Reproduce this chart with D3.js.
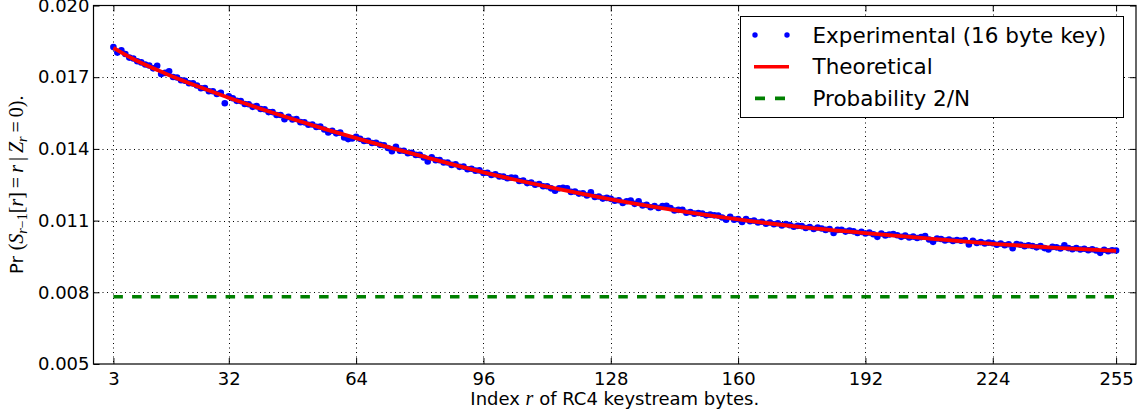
<!DOCTYPE html>
<html>
<head>
<meta charset="utf-8">
<script src="https://cdn.jsdelivr.net/npm/d3@7"></script>
<style>
  html, body { margin: 0; padding: 0; background: #fff; }
  svg { display: block; }
</style>
</head>
<body>
<svg id="chart" width="1140" height="417"></svg>
<script>
// ---------------- data ----------------
const xTicks = [3, 32, 64, 96, 128, 160, 192, 224, 255];
const yTicks = [0.005, 0.008, 0.011, 0.014, 0.017, 0.020];
const yTickLabels = ["0.005", "0.008", "0.011", "0.014", "0.017", "0.020"];

// Experimental values, index r = 3 .. 255
const expStart = 3;
const experimental = [
  0.01826,0.01803,0.01813,0.01797,0.01782,0.01778,0.01767,0.01762,0.01753,0.01749,
  0.01737,0.01748,0.01713,0.01718,0.01725,0.01701,0.01699,0.01687,0.01685,0.01675,
  0.01674,0.01665,0.01654,0.01655,0.01641,0.01641,0.01630,0.01635,0.01591,0.01620,
  0.01612,0.01601,0.01600,0.01588,0.01587,0.01576,0.01579,0.01567,0.01566,0.01554,
  0.01554,0.01542,0.01542,0.01524,0.01534,0.01523,0.01525,0.01512,0.01511,0.01501,
  0.01502,0.01492,0.01493,0.01481,0.01469,0.01476,0.01465,0.01468,0.01448,0.01441,
  0.01444,0.01451,0.01442,0.01433,0.01434,0.01425,0.01426,0.01417,0.01415,0.01404,
  0.01390,0.01409,0.01392,0.01392,0.01382,0.01384,0.01375,0.01375,0.01364,0.01347,
  0.01365,0.01353,0.01353,0.01343,0.01343,0.01333,0.01336,0.01325,0.01326,0.01315,
  0.01317,0.01309,0.01310,0.01299,0.01300,0.01291,0.01294,0.01285,0.01284,0.01277,
  0.01280,0.01279,0.01266,0.01268,0.01257,0.01259,0.01250,0.01253,0.01244,0.01244,
  0.01235,0.01225,0.01235,0.01237,0.01235,0.01220,0.01222,0.01213,0.01214,0.01205,
  0.01218,0.01199,0.01201,0.01192,0.01195,0.01191,0.01183,0.01185,0.01174,0.01181,
  0.01184,0.01170,0.01181,0.01163,0.01166,0.01156,0.01161,0.01153,0.01161,0.01162,
  0.01153,0.01142,0.01145,0.01145,0.01133,0.01136,0.01129,0.01132,0.01129,0.01122,
  0.01125,0.01122,0.01121,0.01113,0.01104,0.01116,0.01104,0.01107,0.01094,0.01106,
  0.01097,0.01100,0.01092,0.01095,0.01087,0.01092,0.01085,0.01089,0.01080,0.01086,
  0.01081,0.01074,0.01078,0.01077,0.01069,0.01073,0.01065,0.01071,0.01067,0.01061,
  0.01065,0.01048,0.01061,0.01062,0.01054,0.01058,0.01055,0.01048,0.01053,0.01046,
  0.01050,0.01043,0.01032,0.01046,0.01038,0.01042,0.01044,0.01039,0.01032,0.01037,
  0.01029,0.01033,0.01027,0.01031,0.01035,0.01021,0.01011,0.01025,0.01023,0.01017,
  0.01021,0.01015,0.01019,0.01016,0.01019,0.01000,0.01016,0.01006,0.01010,0.01004,
  0.01008,0.01005,0.00999,0.01004,0.00997,0.01001,0.00984,0.01002,0.00999,0.00993,
  0.00997,0.00994,0.00988,0.00993,0.00985,0.00979,0.00990,0.00988,0.00983,0.00997,
  0.00985,0.00980,0.00985,0.00979,0.00982,0.00976,0.00980,0.00975,0.00965,0.00978,
  0.00972,0.00976,0.00975
];

// Theoretical curve
const theoR = [3, 8, 16, 24, 32, 40, 48, 56, 64, 80, 96, 112, 128, 144, 160, 176, 192, 208, 224, 240, 255];
const theoV = [0.01823, 0.01776, 0.01716, 0.01663, 0.01614, 0.01568, 0.01525, 0.01484, 0.01445,
               0.01372, 0.01302, 0.01242, 0.01189, 0.01144, 0.01105, 0.01073, 0.01048, 0.01025,
               0.01003, 0.00986, 0.00973];

// Probability 2/N
const baselineR = [3, 255];
const baselineV = [0.0078125, 0.0078125];

const legendLabels = ["Experimental (16 byte key)", "Theoretical", "Probability 2/N"];

// ---------------- layout ----------------
const svg = d3.select("#chart");
const L = 93.5, R = 1136, T = 5.5, B = 364;
const x = d3.scaleLinear().domain([-2, 260]).range([L, R]);
const y = d3.scaleLinear().domain([0.005, 0.020]).range([B, T]);

const tickFont = "'DejaVu Sans', sans-serif";
const mathFont = "'Liberation Serif', 'DejaVu Serif', serif";

// grid
const grid = svg.append("g").attr("stroke", "#000").attr("stroke-width", 1)
  .attr("stroke-dasharray", "1,3.5").attr("fill", "none");
grid.selectAll("line.gx").data(xTicks).join("line")
  .attr("x1", d => Math.round(x(d)) + 0.5).attr("x2", d => Math.round(x(d)) + 0.5)
  .attr("y1", T).attr("y2", B);
grid.selectAll("line.gy").data(yTicks.slice(1, -1)).join("line")
  .attr("y1", d => Math.round(y(d)) + 0.5).attr("y2", d => Math.round(y(d)) + 0.5)
  .attr("x1", L).attr("x2", R);

// experimental dots
svg.append("g").attr("fill", "#0000ff")
  .selectAll("circle").data(experimental).join("circle")
  .attr("cx", (d, i) => x(expStart + i))
  .attr("cy", d => y(d))
  .attr("r", 3.3);

// theoretical line
const theo = theoR.map((r, i) => [r, theoV[i]]);
svg.append("path").datum(theo)
  .attr("fill", "none").attr("stroke", "#ff0000").attr("stroke-width", 3.8)
  .attr("stroke-linejoin", "round")
  .attr("d", d3.line().x(d => x(d[0])).y(d => y(d[1])).curve(d3.curveMonotoneX));

// 2/N line
const base = baselineR.map((r, i) => [r, baselineV[i]]);
svg.append("path").datum(base)
  .attr("fill", "none").attr("stroke", "#008000").attr("stroke-width", 3.6)
  .attr("stroke-dasharray", "9.5,9.2")
  .attr("d", d3.line().x(d => x(d[0])).y(d => y(d[1])));

// axes (inward ticks)
const tick = 6;
const ax = svg.append("g").attr("transform", `translate(0,${B})`)
  .call(d3.axisBottom(x).tickValues(xTicks).tickSize(-tick).tickSizeOuter(0).tickPadding(8).tickFormat(d3.format("d")));
const ay = svg.append("g").attr("transform", `translate(${L},0)`)
  .call(d3.axisLeft(y).tickValues(yTicks).tickSize(-tick).tickSizeOuter(0).tickPadding(4)
    .tickFormat((d, i) => yTickLabels[i]));
const at = svg.append("g").attr("transform", `translate(0,${T})`)
  .call(d3.axisTop(x).tickValues(xTicks).tickSize(-tick).tickSizeOuter(0).tickFormat(""));
const ar = svg.append("g").attr("transform", `translate(${R},0)`)
  .call(d3.axisRight(y).tickValues(yTicks).tickSize(-tick).tickSizeOuter(0).tickFormat(""));
[ax, ay, at, ar].forEach(g => {
  g.select(".domain").remove();
  g.selectAll(".tick line").attr("stroke", "#000").attr("stroke-width", 1);
  g.selectAll(".tick text").attr("fill", "#000").style("font-family", tickFont).style("font-size", "18px");
});

// frame
svg.append("rect").attr("x", L).attr("y", T).attr("width", R - L).attr("height", B - T)
  .attr("fill", "none").attr("stroke", "#000").attr("stroke-width", 1.2);

// x label
const xl = svg.append("text").attr("x", (L + R) / 2).attr("y", 405)
  .attr("text-anchor", "middle").style("font-family", tickFont).style("font-size", "18px");
xl.append("tspan").text("Index ");
xl.append("tspan").style("font-family", mathFont).style("font-style", "italic").style("font-size", "20px").text("r");
xl.append("tspan").text(" of RC4 keystream bytes.");

// y label
const yl = svg.append("text").attr("transform", `translate(23,${(T + B) / 2}) rotate(-90)`)
  .attr("text-anchor", "middle").style("font-family", mathFont).style("font-size", "20px");
yl.append("tspan").style("font-family", tickFont).style("font-size", "18px").text("Pr ");
yl.append("tspan").text("(");
yl.append("tspan").style("font-style", "italic").text("S");
yl.append("tspan").attr("dy", 4).style("font-size", "14px").style("font-style", "italic").text("r");
yl.append("tspan").style("font-size", "14px").text("\u22121");
yl.append("tspan").attr("dy", -4).text("[");
yl.append("tspan").style("font-style", "italic").text("r");
yl.append("tspan").text("]\u2009=\u2009");
yl.append("tspan").style("font-style", "italic").text("r");
yl.append("tspan").text("\u2009|\u2009");
yl.append("tspan").style("font-style", "italic").text("Z");
yl.append("tspan").attr("dy", 4).style("font-size", "14px").style("font-style", "italic").text("r");
yl.append("tspan").attr("dy", -4).text("\u2009=\u20090).");

// legend
const lg = svg.append("g");
lg.append("rect").attr("x", 740.5).attr("y", 16.5).attr("width", 383).attr("height", 101)
  .attr("fill", "#fff").attr("stroke", "#000").attr("stroke-width", 1);
const rowY = [35, 66.7, 98.4];
lg.selectAll("circle").data([755, 787]).join("circle")
  .attr("cx", d => d).attr("cy", rowY[0]).attr("r", 2.7).attr("fill", "#0000ff");
lg.append("line").attr("x1", 754).attr("x2", 789).attr("y1", rowY[1]).attr("y2", rowY[1])
  .attr("stroke", "#ff0000").attr("stroke-width", 3.6);
lg.append("line").attr("x1", 755).attr("x2", 785).attr("y1", rowY[2]).attr("y2", rowY[2])
  .attr("stroke", "#008000").attr("stroke-width", 3.6).attr("stroke-dasharray", "10,10");
lg.selectAll("text").data(legendLabels).join("text")
  .attr("x", 812.5).attr("y", (d, i) => rowY[i] + 7.7)
  .style("font-family", tickFont).style("font-size", "21.5px").attr("fill", "#000")
  .text(d => d);
</script>
</body>
</html>
